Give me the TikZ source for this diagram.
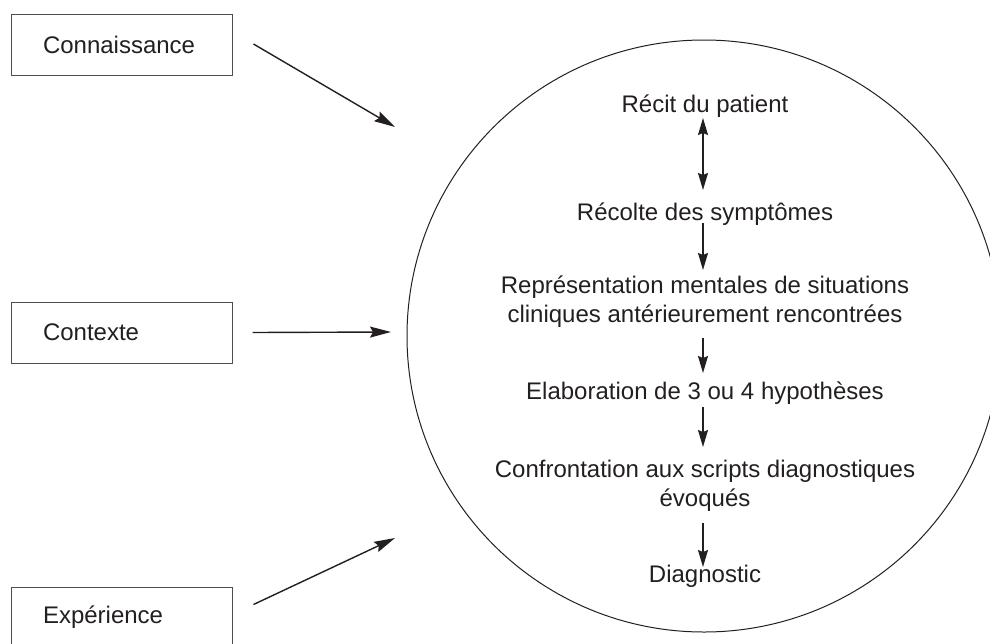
\documentclass[tikz,border=0pt]{standalone}
\usepackage{fontspec}
\setmainfont{Liberation Sans}
\usetikzlibrary{arrows.meta}
\definecolor{ink}{HTML}{231F20}
\begin{document}
\begin{tikzpicture}[x=1pt,y=-1pt,
  every node/.style={text=ink,font=\fontsize{24}{28.8}\selectfont},
  factor/.style={draw=ink!80,line width=1pt,minimum width=221pt,minimum height=61pt,
    text width=157pt,inner xsep=32pt,inner ysep=0pt,align=left},
  flow/.style={inner sep=0pt,align=center},
  ext/.style={draw=ink,line width=1.4pt,-{Stealth[length=21pt,width=11pt,inset=3pt]}},
  int/.style={draw=ink,line width=1.4pt,-{Stealth[length=17pt,width=10pt,inset=2pt]}}]
\useasboundingbox (0,0) rectangle (990,643);
\clip (0,0) rectangle (990,643);
% big ellipse
\draw[ink,line width=1pt] (704,336) ellipse [x radius=297pt,y radius=296pt];
% factor boxes
\node[factor] (con) at (121.5,45) {Connaissance};
\node[factor] (ctx) at (121.5,332.5) {Contexte};
\node[factor] (exp) at (121.5,617.5) {Expérience};
% flow text
\node[flow,anchor=base] (recit) at (705,112) {Récit du patient};
\node[flow,anchor=base] (recolte) at (705,220) {Récolte des symptômes};
\node[flow,anchor=base] (repr) at (705,322) {Représentation mentales de situations\\cliniques antérieurement rencontrées};
\node[flow,anchor=base] (elab) at (705,399) {Elaboration de 3 ou 4 hypothèses};
\node[flow,anchor=base] (conf) at (705,506) {Confrontation aux scripts diagnostiques\\évoqués};
\node[flow,anchor=base] (diag) at (705,582) {Diagnostic};
% targets on the ellipse
\coordinate (t1) at (395,127);
\coordinate (t2) at (391,332);
\coordinate (t3) at (395,538);
% external arrows
\draw[ext] ([xshift=21pt,yshift=1pt]con.east) -- (t1);
\draw[ext] ([xshift=20pt]ctx.east) -- (t2);
\draw[ext] ([xshift=21pt,yshift=13pt]exp.east) -- (t3);
% internal arrows
\draw[int,{Stealth[length=17pt,width=10pt,inset=2pt]}-{Stealth[length=17pt,width=10pt,inset=2pt]}] ([xshift=-2pt,yshift=-6pt]recit.base) -- ([xshift=-2pt,yshift=30pt]recolte.base);
\draw[int] ([xshift=-2pt,yshift=-3pt]recolte.base) -- ([xshift=-2pt,yshift=52pt]repr.base);
\draw[int] ([xshift=-2pt,yshift=-16pt]repr.base) -- ([xshift=-2pt,yshift=26pt]elab.base);
\draw[int] ([xshift=-2pt,yshift=-8pt]elab.base) -- ([xshift=-2pt,yshift=59pt]conf.base);
\draw[int] ([xshift=-2pt,yshift=-17pt]conf.base) -- ([xshift=-2pt,yshift=15pt]diag.base);
\end{tikzpicture}
\end{document}
